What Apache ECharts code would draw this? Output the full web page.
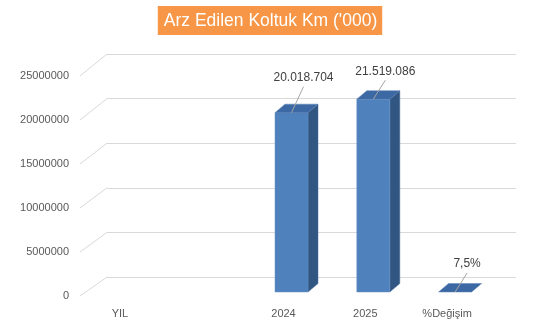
<!DOCTYPE html>
<html>
<head>
<meta charset="utf-8">
<script src="https://cdn.jsdelivr.net/npm/echarts@6/dist/echarts.min.js"></script>
<style>html,body{margin:0;padding:0;background:#fff}#c{width:541px;height:331px}</style>
</head>
<body>
<div id="c"></div>
<script>
// ---- data ----
const categories = ['YIL', '', '2024', '2025', '%Değişim'];
const values = [null, null, 20018704, 21519086, 7.5];
const valueLabels = [null, null, '20.018.704', '21.519.086', '7,5%'];
const yTicks = [0, 5000000, 10000000, 15000000, 20000000, 25000000];
const titleText = "Arz Edilen Koltuk Km ('000)";

// ---- style ----
const labelNudge = [0, 0, -7, 0, 0];
const FONT = 'Liberation Sans';
const BACK = {left: 107, top: 54, height: 223};
const yMax = 25000000, yStep = 5000000;

const chart = echarts.init(document.getElementById('c'), null, {renderer: 'canvas'});

const barData = values.map((v, i) => v == null ? null : [i, v, i]).filter(d => d);

chart.setOption({
  animation: false,
  backgroundColor: '#ffffff',
  title: {
    text: titleText, left: 'center', top: 6,
    backgroundColor: '#F79646', padding: [5, 5, 4, 6],
    textStyle: {color: '#ffffff', fontFamily: FONT, fontSize: 17.5, fontWeight: 'normal', lineHeight: 20}
  },
  grid: [
    {left: 87, width: 409, top: 68, height: 224},                       // bar plane
    {left: BACK.left, width: 409, top: BACK.top, height: BACK.height},  // back wall
    {left: 79, width: 409, top: 76, height: 220}                        // front plane (labels)
  ],
  xAxis: [
    {type: 'category', gridIndex: 0, data: categories, show: false},
    {type: 'category', gridIndex: 1, data: categories, show: false},
    {type: 'category', gridIndex: 2, data: categories,
     axisLine: {show: false}, axisTick: {show: false},
     axisLabel: {color: '#595959', fontFamily: FONT, fontSize: 11, margin: 12, interval: 0}}
  ],
  yAxis: [
    {type: 'value', gridIndex: 0, min: 0, max: yMax, interval: yStep, show: false},
    {type: 'value', gridIndex: 1, min: 0, max: yMax, interval: yStep,
     axisLabel: {show: false}, axisLine: {show: false}, axisTick: {show: false},
     splitLine: {show: true, lineStyle: {color: '#d9d9d9', width: 1}}},
    {type: 'value', gridIndex: 2, min: 0, max: yMax, interval: yStep,
     axisLine: {show: false}, axisTick: {show: false}, splitLine: {show: false},
     axisLabel: {color: '#595959', fontFamily: FONT, fontSize: 11, margin: 10,
                 formatter: v => String(v)}}
  ],
  series: [
    {
      type: 'custom', xAxisIndex: 2, yAxisIndex: 2, silent: true,
      data: yTicks.map(v => [0, v]),
      renderItem: function (params, api) {
        const v = api.value(1);
        const p = api.coord([0, v]);
        const x0 = params.coordSys.x + 1;
        const yb = BACK.top + BACK.height * (1 - v / yMax);
        return {type: 'line', shape: {x1: x0, y1: p[1], x2: BACK.left, y2: yb},
                style: {stroke: '#d9d9d9', lineWidth: 1}};
      },
      z: 1
    },
    {
      type: 'custom', xAxisIndex: 0, yAxisIndex: 0,
      data: barData,
      renderItem: function (params, api) {
        const i = api.value(0), v = api.value(1);
        const base = api.coord([i, 0]);
        const top = api.coord([i, v]);
        const w = 33, dx = 10, dy = -8.5;
        const cx = top[0], x0 = cx - w / 2, x1 = cx + w / 2;
        const yT = top[1], yB = base[1];
        const children = [];
        if (yB - yT > 0.5) {
          children.push({type: 'polygon', shape: {points: [[x1, yB], [x1, yT], [x1 + dx, yT + dy], [x1 + dx, yB + dy]]},
                         style: {fill: '#325682', stroke: '#4a6f9e', lineWidth: 0.5}});
          children.push({type: 'rect', shape: {x: x0, y: yT, width: w, height: yB - yT},
                         style: {fill: '#4f81bd', stroke: '#6a93c7', lineWidth: 0.5}});
        }
        children.push({type: 'polygon', shape: {points: [[x0, yT], [x0 + dx, yT + dy], [x1 + dx, yT + dy], [x1, yT]]},
                       style: {fill: '#3c68a3', stroke: '#5b82b5', lineWidth: 0.5}});
        const n = labelNudge[i] || 0;
        const lx = cx + 12, ly = yT - 28 + n;
        children.push({type: 'line', shape: {x1: cx, y1: yT, x2: lx, y2: ly + 9},
                       style: {stroke: '#a6a6a6', lineWidth: 1}});
        children.push({type: 'text', x: lx, y: ly,
                       style: {text: valueLabels[i], fill: '#404040', font: '12px ' + FONT,
                               textAlign: 'center', textVerticalAlign: 'middle'}});
        return {type: 'group', children: children};
      },
      z: 3
    }
  ]
});
</script>
</body>
</html>
